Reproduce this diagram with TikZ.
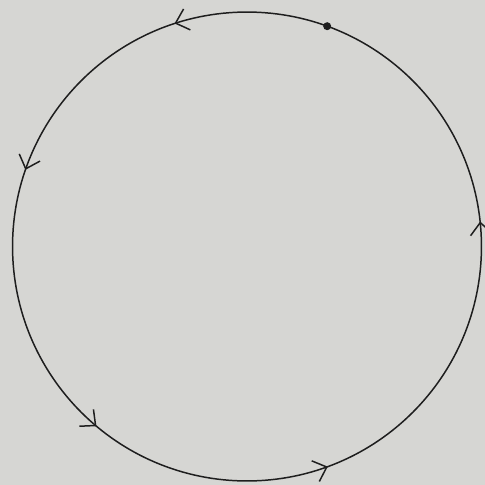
\documentclass[tikz,border=0pt]{standalone}
\usetikzlibrary{arrows.meta,decorations.markings,calc}
\definecolor{paper}{RGB}{214,214,211}
\definecolor{ink}{RGB}{30,30,30}
\begin{document}
\begin{tikzpicture}[x=0.02cm,y=-0.02cm,
  orbit/.style={draw=ink, line width=0.85pt},
  flowmark/.style={postaction={decorate,decoration={markings,
    mark=at position 0.017 with {\arrow{Straight Barb[length=2.4mm,width=4.4mm,line width=0.85pt]}},
    mark=at position 0.300 with {\arrow{Straight Barb[length=2.4mm,width=4.4mm,line width=0.85pt]}},
    mark=at position 0.447 with {\arrow{Straight Barb[length=2.4mm,width=4.4mm,line width=0.85pt]}},
    mark=at position 0.639 with {\arrow{Straight Barb[length=2.4mm,width=4.4mm,line width=0.85pt]}},
    mark=at position 0.806 with {\arrow{Straight Barb[length=2.4mm,width=4.4mm,line width=0.85pt]}}}}},
  start/.style={circle, fill=ink, inner sep=0pt, minimum size=1.6mm}]
\fill[paper] (0,0) rectangle (485,485);
\useasboundingbox (0,0) rectangle (485,485);
% the path, run anticlockwise
\coordinate (c) at (247,246.5);
\draw[orbit, flowmark] (c) circle[radius=4.69cm];
% starting point
\node[start] (p) at ($(c)+(70:4.69cm)$) {};
\end{tikzpicture}
\end{document}
